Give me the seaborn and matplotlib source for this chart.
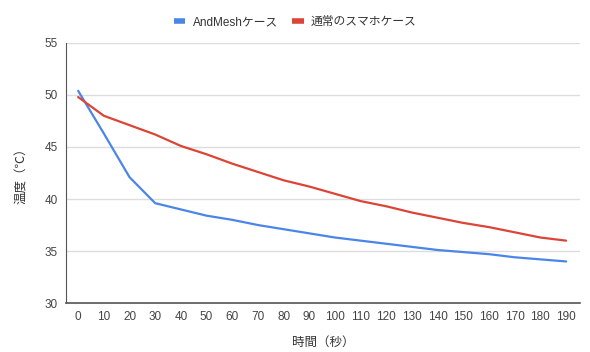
import numpy as np
import pandas as pd
import seaborn as sns
import matplotlib.pyplot as plt
from matplotlib.lines import Line2D

seconds = list(range(0, 200, 10))
andmesh = [50.4, 46.3, 42.1, 39.6, 39.0, 38.4, 38.0, 37.5, 37.1, 36.7,
           36.3, 36.0, 35.7, 35.4, 35.1, 34.9, 34.7, 34.4, 34.2, 34.0]
normal = [49.8, 48.0, 47.1, 46.2, 45.1, 44.3, 43.4, 42.6, 41.8, 41.2,
          40.5, 39.8, 39.3, 38.7, 38.2, 37.7, 37.3, 36.8, 36.3, 36.0]
series_names = ["AndMeshケース", "通常のスマホケース"]
colors = ["#4a86e8", "#db4437"]

sns.set_style("white")
plt.rcParams["font.family"] = ["Liberation Sans", "Noto Sans CJK JP", "DejaVu Sans"]

df = pd.DataFrame({"秒": seconds, series_names[0]: andmesh, series_names[1]: normal})
df = df.melt(id_vars="秒", var_name="系列", value_name="温度")

fig, ax = plt.subplots(figsize=(5.9, 3.52), dpi=100)
fig.subplots_adjust(left=0.112, right=0.983, top=0.878, bottom=0.139)

sns.lineplot(data=df, x="秒", y="温度", hue="系列", palette=colors, linewidth=1.6,
             ax=ax, legend=False)

ax.set_xlim(-4.7, 195.4)
ax.set_ylim(30, 55)
ax.set_xticks(seconds)
ax.set_yticks([30, 35, 40, 45, 50, 55])
ax.tick_params(axis="both", labelsize=8.5, colors="#444444", length=0, pad=6)
ax.grid(axis="y", color="#dddddd", linewidth=1)
ax.set_axisbelow(True)
for s in ["top", "right"]:
    ax.spines[s].set_visible(False)
ax.spines["left"].set_color("#555555")
ax.spines["bottom"].set_color("#555555")
ax.spines["bottom"].set_linewidth(1.2)

ax.set_xlabel("時間（秒）", fontsize=9, color="#333333", labelpad=10)
ax.set_ylabel("温度（℃）", fontsize=9, color="#333333", labelpad=12)

handles = [Line2D([0], [0], color=c, linewidth=4, solid_capstyle="butt") for c in colors]
fig.legend(handles, series_names, loc="upper center", bbox_to_anchor=(0.5, 0.985),
           ncol=2, frameon=False, fontsize=8.5, handlelength=1.0,
           columnspacing=1.2, handletextpad=0.6, labelcolor="#333333")

fig.savefig("out.png")
